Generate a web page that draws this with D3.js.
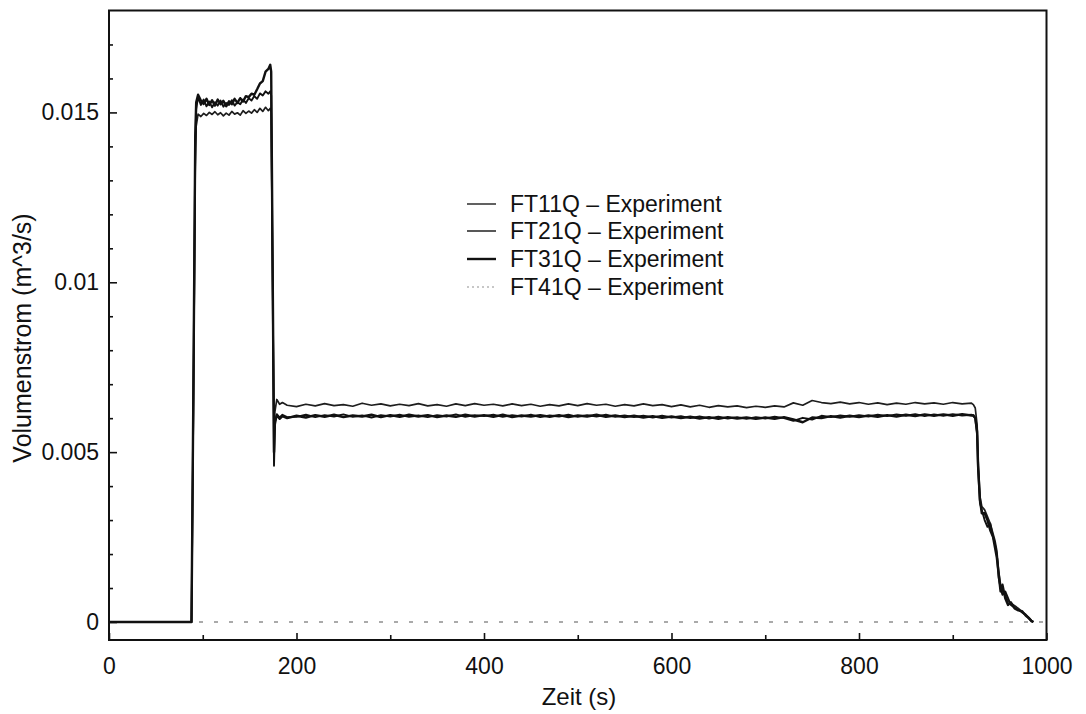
<!DOCTYPE html>
<html>
<head>
<meta charset="utf-8">
<script src="https://cdn.jsdelivr.net/npm/d3@7"></script>
<style>
  html, body { margin: 0; padding: 0; background: #fff; }
  svg { display: block; font-family: "Liberation Sans", Arial, Helvetica, sans-serif; }
</style>
</head>
<body>
<svg id="chart" width="1086" height="714"></svg>
<script>
// ---------- data ----------
const seriesNames = ["FT11Q – Experiment", "FT21Q – Experiment", "FT31Q – Experiment", "FT41Q – Experiment"];

// segment A: start, first plateau, drop
const zeitA = [0, 88, 90, 92, 93, 95, 98, 101, 104, 107, 110, 113, 116, 119, 122, 125, 128, 131, 134, 137, 140, 143, 146, 149, 152, 155, 158, 161, 164, 167, 170, 172, 173, 174, 176, 177, 179, 182, 185, 190];
const ft11A = [0, 0, 0.0062, 0.0134, 0.0146, 0.01495, 0.01488, 0.01497, 0.01491, 0.01500, 0.01494, 0.01502, 0.01493, 0.01499, 0.01490, 0.01498, 0.01492, 0.01503, 0.01495, 0.01499, 0.01492, 0.01505, 0.01497, 0.01504, 0.01498, 0.01508, 0.01500, 0.01512, 0.01503, 0.01515, 0.01505, 0.01512, 0.0150, 0.0118, 0.0057, 0.0062, 0.00655, 0.00641, 0.00646, 0.00638];
const ft21A = [0, 0, 0.0066, 0.0140, 0.0151, 0.01545, 0.01522, 0.01538, 0.01518, 0.01532, 0.01515, 0.01530, 0.01520, 0.01535, 0.01517, 0.01528, 0.01522, 0.01536, 0.01520, 0.01530, 0.01524, 0.01538, 0.01528, 0.01542, 0.01535, 0.01548, 0.01540, 0.01556, 0.01550, 0.01562, 0.01555, 0.01562, 0.0155, 0.0120, 0.0046, 0.0058, 0.00612, 0.00602, 0.00610, 0.00603];
const ft31A = [0, 0, 0.0068, 0.0143, 0.0153, 0.01552, 0.01535, 0.01525, 0.01540, 0.01522, 0.01536, 0.01520, 0.01538, 0.01524, 0.01534, 0.01518, 0.01533, 0.01524, 0.01540, 0.01528, 0.01542, 0.01532, 0.01548, 0.01545, 0.01555, 0.01552, 0.01568, 0.01585, 0.01592, 0.01620, 0.01628, 0.01640, 0.0162, 0.0125, 0.0050, 0.0059, 0.00608, 0.00598, 0.00606, 0.00600];

// segment B: second plateau (200 ... 920 s, every 10 s)
const zeitB = [200, 210, 220, 230, 240, 250, 260, 270, 280, 290, 300, 310, 320, 330, 340, 350, 360, 370, 380, 390, 400, 410, 420, 430, 440, 450, 460, 470, 480, 490, 500, 510, 520, 530, 540, 550, 560, 570, 580, 590, 600, 610, 620, 630, 640, 650, 660, 670, 680, 690, 700, 710, 720, 730, 740, 750, 760, 770, 780, 790, 800, 810, 820, 830, 840, 850, 860, 870, 880, 890, 900, 910, 920];
const ft11B = [0.00634, 0.00641, 0.00636, 0.00643, 0.00637, 0.00640, 0.00635, 0.00644, 0.00638, 0.00642,
               0.00636, 0.00641, 0.00637, 0.00643, 0.00636, 0.00640, 0.00635, 0.00642, 0.00637, 0.00643,
               0.00638, 0.00641, 0.00636, 0.00642, 0.00637, 0.00641, 0.00635, 0.00640, 0.00636, 0.00642,
               0.00637, 0.00643, 0.00638, 0.00641, 0.00635, 0.00640, 0.00636, 0.00642, 0.00637, 0.00640,
               0.00634, 0.00639, 0.00633, 0.00638, 0.00632, 0.00637, 0.00633, 0.00636, 0.00631, 0.00635,
               0.00632, 0.00636, 0.00633, 0.00645, 0.00638, 0.00652, 0.00646, 0.00643, 0.00647, 0.00642,
               0.00646, 0.00641, 0.00645, 0.00640, 0.00644, 0.00641, 0.00646, 0.00642, 0.00645, 0.00641,
               0.00646, 0.00642, 0.00644];
const ft21B = [0.00604, 0.00610, 0.00603, 0.00609, 0.00605, 0.00611, 0.00604, 0.00608, 0.00602, 0.00609,
               0.00605, 0.00610, 0.00604, 0.00608, 0.00603, 0.00609, 0.00605, 0.00611, 0.00604, 0.00609,
               0.00606, 0.00610, 0.00604, 0.00609, 0.00605, 0.00610, 0.00603, 0.00608, 0.00605, 0.00610,
               0.00604, 0.00609, 0.00605, 0.00610, 0.00604, 0.00608, 0.00603, 0.00607, 0.00602, 0.00607,
               0.00602, 0.00606, 0.00600, 0.00605, 0.00599, 0.00604, 0.00599, 0.00603, 0.00598, 0.00603,
               0.00599, 0.00604, 0.00600, 0.00592, 0.00601, 0.00596, 0.00607, 0.00603, 0.00608, 0.00604,
               0.00609, 0.00605, 0.00610, 0.00606, 0.00611, 0.00607, 0.00612, 0.00606, 0.00611, 0.00607,
               0.00612, 0.00608, 0.00610];
const ft31B = [0.00607, 0.00602, 0.00609, 0.00604, 0.00610, 0.00603, 0.00608, 0.00605, 0.00610, 0.00603,
               0.00609, 0.00604, 0.00610, 0.00605, 0.00609, 0.00603, 0.00608, 0.00604, 0.00610, 0.00605,
               0.00609, 0.00604, 0.00610, 0.00603, 0.00608, 0.00605, 0.00609, 0.00604, 0.00609, 0.00603,
               0.00608, 0.00605, 0.00610, 0.00604, 0.00608, 0.00603, 0.00607, 0.00602, 0.00606, 0.00601,
               0.00605, 0.00600, 0.00604, 0.00599, 0.00603, 0.00598, 0.00603, 0.00599, 0.00602, 0.00598,
               0.00602, 0.00598, 0.00603, 0.00596, 0.00588, 0.00602, 0.00600, 0.00606, 0.00602, 0.00607,
               0.00603, 0.00608, 0.00604, 0.00609, 0.00605, 0.00610, 0.00606, 0.00611, 0.00607, 0.00611,
               0.00607, 0.00612, 0.00608];

// segment C: final decline
const zeitC = [922, 924, 926, 927, 929, 931, 934, 937, 940, 943, 945, 947, 949, 951, 953, 956, 959, 962, 966, 970, 974, 978, 981, 984, 986];
const ft11C = [0.00640, 0.0063, 0.0058, 0.0048, 0.0037, 0.0034, 0.0033, 0.0031, 0.0029, 0.0026, 0.0024, 0.0021, 0.0015, 0.0011, 0.0009, 0.0008, 0.0006, 0.00055, 0.00048, 0.00040, 0.00030, 0.00022, 0.00014, 0.00005, 0];
const ft21C = [0.00606, 0.0060, 0.0055, 0.0045, 0.0035, 0.0033, 0.0030, 0.0028, 0.0029, 0.0025, 0.0023, 0.0020, 0.0013, 0.0010, 0.0008, 0.0009, 0.0007, 0.00050, 0.00042, 0.00036, 0.00028, 0.00020, 0.00011, 0.00003, 0];
const ft31C = [0.00609, 0.0060, 0.0056, 0.0046, 0.0036, 0.0032, 0.0032, 0.0030, 0.0027, 0.0025, 0.0022, 0.0019, 0.0014, 0.0009, 0.0011, 0.0007, 0.0005, 0.00058, 0.00040, 0.00034, 0.00032, 0.00018, 0.00012, 0.00002, 0];

// FT41Q stays at zero
const zeit41 = [0, 200, 400, 600, 800, 1000];
const ft41 = [0, 0, 0, 0, 0, 0];

// axes
const xTicks = [0, 200, 400, 600, 800, 1000];
const xTickLabels = ["0", "200", "400", "600", "800", "1000"];
const yTicks = [0, 0.005, 0.01, 0.015];
const yTickLabels = ["0", "0.005", "0.01", "0.015"];
const xLabel = "Zeit (s)";
const yLabel = "Volumenstrom (m^3/s)";

// ---------- chart ----------
const svg = d3.select("#chart");
const L = 109, R = 1046.5, T = 10.5, B = 640;

const x = d3.scaleLinear().domain([0, 1000]).range([L, R]);
const y = d3.scaleLinear().domain([-0.00053, 0.018]).range([B, T]);

function join(a, b, c) {
  return a.concat(b, c);
}
const zeitAll = join(zeitA, zeitB, zeitC);
const toPts = (vals) => zeitAll.map((t, i) => [t, vals[i]]);
const series = [
  { name: seriesNames[0], pts: toPts(join(ft11A, ft11B, ft11C)), color: "#1e1e1e", width: 1.7, dash: null },
  { name: seriesNames[1], pts: toPts(join(ft21A, ft21B, ft21C)), color: "#111", width: 1.9, dash: null },
  { name: seriesNames[2], pts: toPts(join(ft31A, ft31B, ft31C)), color: "#111", width: 2.4, dash: null },
  { name: seriesNames[3], pts: zeit41.map((t, i) => [t, ft41[i]]), color: "#8f8f8f", width: 1.3, dash: "4,11" }
];

const line = d3.line().x(d => x(d[0])).y(d => y(d[1]));

// FT41Q first (underneath)
const order = [3, 0, 1, 2];
svg.append("g").selectAll("path")
  .data(order.map(i => series[i]))
  .join("path")
  .attr("d", d => line(d.pts))
  .attr("fill", "none")
  .attr("stroke", d => d.color)
  .attr("stroke-width", d => d.width)
  .attr("stroke-dasharray", d => d.dash)
  .attr("stroke-linejoin", "round");

// x axis: major ticks with labels, inward
const xAxis = d3.axisBottom(x).tickValues(xTicks)
  .tickFormat((d, i) => xTickLabels[i]).tickSizeInner(-7).tickSizeOuter(0).tickPadding(18);
const gx = svg.append("g").attr("transform", `translate(0,${B})`).call(xAxis);
const xMinor = d3.axisBottom(x).tickValues(d3.range(100, 1000, 200)).tickFormat("").tickSizeInner(-5).tickSizeOuter(0);
const gxm = svg.append("g").attr("transform", `translate(0,${B})`).call(xMinor);

// y axis
const yAxis = d3.axisLeft(y).tickValues(yTicks)
  .tickFormat((d, i) => yTickLabels[i]).tickSizeInner(-8).tickSizeOuter(0).tickPadding(10);
const gy = svg.append("g").attr("transform", `translate(${L},0)`).call(yAxis);
const yMinorVals = d3.range(1, 18).map(k => k * 0.001).filter(v => Math.abs(v / 0.005 - Math.round(v / 0.005)) > 1e-6);
const yMinor = d3.axisLeft(y).tickValues(yMinorVals).tickFormat("").tickSizeInner(-4).tickSizeOuter(0);
const gym = svg.append("g").attr("transform", `translate(${L},0)`).call(yMinor);

[gx, gxm, gy, gym].forEach(g => {
  g.select(".domain").remove();
  g.selectAll(".tick line").attr("stroke", "#111").attr("stroke-width", 1.6);
  g.selectAll(".tick text").attr("fill", "#111").style("font-size", "23px");
});

// frame
svg.append("rect")
  .attr("x", L).attr("y", T).attr("width", R - L).attr("height", B - T)
  .attr("fill", "none").attr("stroke", "#111").attr("stroke-width", 2);

// axis titles
svg.append("text")
  .attr("x", 579).attr("y", 705)
  .attr("text-anchor", "middle")
  .style("font-size", "24px").attr("fill", "#111")
  .text(xLabel);
svg.append("text")
  .attr("transform", "translate(31,338) rotate(-90)")
  .attr("text-anchor", "middle")
  .style("font-size", "25px").attr("fill", "#111")
  .text(yLabel);

// legend
const legY = [204, 231, 259, 287];
const leg = svg.append("g");
series.forEach((s, i) => {
  leg.append("line")
    .attr("x1", 467).attr("x2", 496)
    .attr("y1", legY[i]).attr("y2", legY[i])
    .attr("stroke", s.color)
    .attr("stroke-width", i === 2 ? 2.4 : (i === 3 ? 1.2 : 1.4))
    .attr("stroke-dasharray", i === 3 ? "2,3" : null);
  leg.append("text")
    .attr("x", 510).attr("y", legY[i]).attr("dy", "0.36em")
    .style("font-size", "23px").attr("fill", "#111")
    .text(s.name);
});
</script>
</body>
</html>
